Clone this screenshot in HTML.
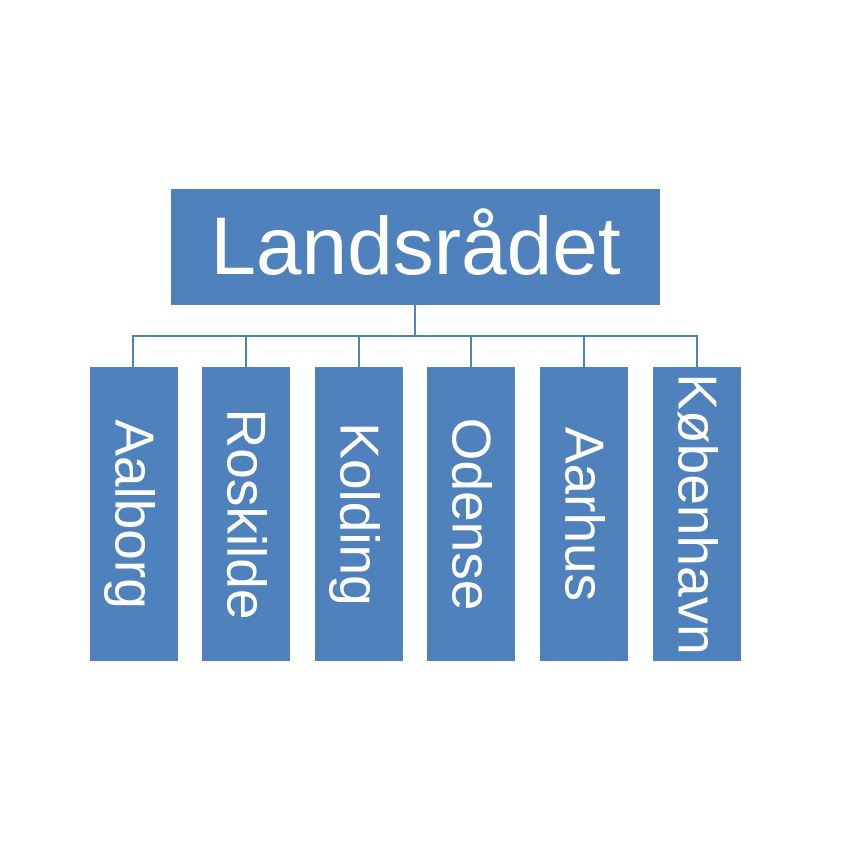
<!DOCTYPE html>
<html><head><meta charset="utf-8"><style>
html,body{margin:0;padding:0;background:#fff;width:864px;height:864px;overflow:hidden}
.b{position:absolute;background:#4f81bd;color:#fff;font-family:"Liberation Sans",sans-serif}
.top{left:171px;top:189px;width:489px;height:116px;font-size:82px;line-height:116px;text-align:center}
.c{top:367px;width:88px;height:294px}
.c span{position:absolute;left:50%;top:50%;transform:translate(-50%,-50%) rotate(90deg);font-size:55px;white-space:nowrap;line-height:1}
.l{position:absolute;background:#4f81bd}
</style></head><body>
<div class="b top">Landsrådet</div>
<div class="l" style="left:414px;top:305px;width:2px;height:31px"></div>
<div class="l" style="left:132px;top:335px;width:566px;height:2px"></div>
<div class="l" style="left:132px;top:335px;width:2px;height:32px"></div>
<div class="l" style="left:245px;top:335px;width:2px;height:32px"></div>
<div class="l" style="left:358px;top:335px;width:2px;height:32px"></div>
<div class="l" style="left:470px;top:335px;width:2px;height:32px"></div>
<div class="l" style="left:583px;top:335px;width:2px;height:32px"></div>
<div class="l" style="left:696px;top:335px;width:2px;height:32px"></div>
<div class="b c" style="left:90px"><span>Aalborg</span></div>
<div class="b c" style="left:202px"><span>Roskilde</span></div>
<div class="b c" style="left:315px"><span>Kolding</span></div>
<div class="b c" style="left:427px"><span>Odense</span></div>
<div class="b c" style="left:540px"><span>Aarhus</span></div>
<div class="b c" style="left:653px"><span>København</span></div>
</body></html>
